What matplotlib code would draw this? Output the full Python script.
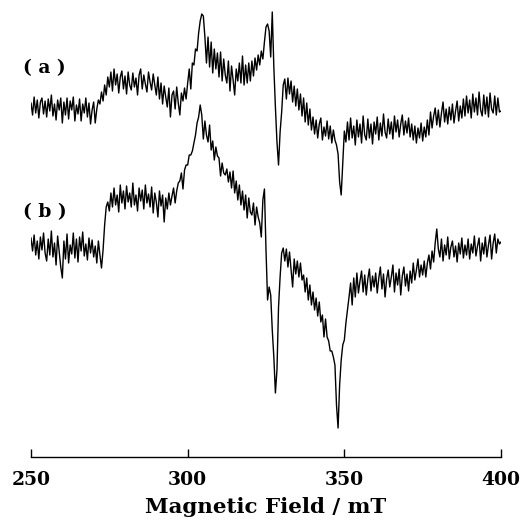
import numpy as np
import matplotlib
matplotlib.use("Agg")
import matplotlib.pyplot as plt

# Magnetic field axis (mT), 0.5 mT step from 250 to 400
field_start, field_stop, field_step = 250.0, 400.0, 0.5

# EPR signal (a), arbitrary units, 0.5 mT steps
spectrum_a = [
    4, -8, 10, -6, 7, -11, 5, 9, -7, 6,
    -10, 8, -4, 12, -9, 3, -13, 7, -3, 9,
    -16, 5, -8, 9, -12, 6, -3, 10, -14, 2,
    -7, 8, -14, 3, -6, 9, -10, 4, -17, -3,
    5, -16, -2, 7, 3, 15, 6, 22, 12, 30,
    20, 35, 16, 38, 22, 33, 14, 30, 36, 18,
    31, 13, 35, 22, 17, 34, 20, 29, 12, 32,
    38, 18, 32, 23, 15, 35, 25, 17, 33, 22,
    12, 30, 8, 24, 3, 21, 10, 0, 19, -10,
    12, 16, -2, 20, 4, -8, 14, 6, 19, 8,
    24, 38, 18, 44, 42, 58, 56, 74, 86, 93,
    91, 70, 44, 70, 40, 65, 34, 58, 38, 54,
    30, 55, 26, 48, 32, 24, 46, 16, 41, 27,
    12, 38, 26, 44, 24, 51, 22, 42, 24, 44,
    26, 46, 31, 49, 37, 52, 42, 56, 48, 65,
    80, 83, 76, 50, 95, 40, 0, -35, -58, -25,
    -5, 22, 28, 8, 29, 13, 26, 5, 21, 1,
    18, -3, 13, -9, 9, -15, 4, -18, -2, -23,
    -10, -27, -13, -31, -17, -11, -33, -20, -29, -14,
    -32, -19, -36, -23, -33, -38, -47, -75, -88, -55,
    -24, -35, -15, -33, -11, -31, -19, -38, -13, -30,
    -17, -36, -9, -28, -33, -12, -31, -17, -37, -15,
    -27, -10, -33, -16, -29, -7, -25, -31, -12, -27,
    -15, -32, -9, -25, -13, -30, -17, -8, -28, -14,
    -26, -11, -30, -17, -33, -19, -36, -21, -31, -16,
    -34, -20, -30, -13, -28, -5, -21, -9, -1, -18,
    -3, -20, -6, 5, -15, -2, -17, 0, -13, 3,
    -16, -4, 6, -14, 1, -11, 8, -9, 11, -6,
    7, -11, 13, -5, 9, -8, 15, -3, -9, 12,
    -7, 10, -10, 14, -2, -6, 11, -8, 9, -5,
    -4,
]

# EPR signal (b), arbitrary units, 0.5 mT steps
spectrum_b = [
    7, -6, 10, -10, 4, -14, 8, -5, 12, -8,
    -16, 6, -10, 14, -12, 2, -20, 9, -7, -22,
    -33, 4, -14, 11, -18, 0, -9, 12, -13, 6,
    -17, 8, -6, 13, -11, 1, -15, 7, -8, 5,
    -12, -1, -18, 4, -10, -23, -5, 20, 38, 43,
    34, 52, 38, 57, 40, 50, 33, 60, 42, 54,
    36, 59, 43, 52, 38, 62, 40, 50, 34, 57,
    44, 55, 36, 60, 42, 51, 38, 58, 32, 52,
    43, 28, 54, 39, 50, 23, 47, 36, 52, 40,
    49, 57, 42, 54, 62, 64, 72, 56, 75, 80,
    80, 90, 90, 94, 102, 110, 122, 128, 140, 130,
    106, 124, 110, 103, 120, 95, 104, 85, 98, 89,
    87, 69, 82, 72, 70, 76, 63, 73, 57, 74,
    52, 64, 45, 60, 40, 54, 35, 50, 27, 47,
    33, 30, 42, 20, 38, 28, 22, 8, 45, 56,
    -5, -55, -42, -50, -85, -112, -148, -125, -62, -32,
    -8, -3, -16, -4, -22, -7, -24, -42, -14, -29,
    -16, -32, -18, -35, -30, -47, -33, -55, -40, -60,
    -47, -65, -53, -71, -57, -77, -70, -92, -74, -92,
    -96, -106, -106, -112, -120, -160, -183, -140, -115, -100,
    -95, -78, -65, -52, -38, -60, -33, -52, -28, -48,
    -36, -26, -47, -30, -50, -34, -24, -46, -31, -42,
    -28, -48, -33, -22, -44, -29, -52, -34, -25, -42,
    -32, -20, -47, -28, -40, -24, -50, -31, -22, -41,
    -29, -46, -26, -38, -18, -35, -25, -14, -32, -20,
    -30, -16, -32, -18, -10, -24, -6, -17, 2, 16,
    -4, -12, 6, -16, 0, -10, 8, -14, -2, 4,
    -12, -1, -17, 2, -9, 7, -13, 0, -10, 6,
    -14, 1, -8, 9, -11, -1, 7, -16, 2, -9,
    8, -12, 0, 10, -14, 2, 11, -8, 6, 1,
    3,
]

trace_labels = ["( a )", "( b )"]
x_ticks = [250, 300, 350, 400]
x_label = "Magnetic Field / mT"

field = np.arange(field_start, field_stop + field_step / 2, field_step)

W, H = 521, 526
fig = plt.figure(figsize=(W / 100, H / 100), dpi=100)
ax = fig.add_axes([31 / W, 69 / H, 470 / W, 457 / H])

offset_a, offset_b = 350, 212
ax.plot(field, offset_a + np.array(spectrum_a, float), color="black", lw=1.0)
ax.plot(field, offset_b + np.array(spectrum_b, float), color="black", lw=1.0)

ax.set_xlim(250, 400)
ax.set_ylim(0, 457)
for s in ["top", "left", "right"]:
    ax.spines[s].set_visible(False)
ax.spines["bottom"].set_linewidth(1.0)
ax.set_yticks([])
ax.set_xticks(x_ticks)
ax.tick_params(axis="x", direction="in", length=6, width=1.0, pad=10)
for lab in ax.get_xticklabels():
    lab.set_fontfamily("DejaVu Serif")
    lab.set_fontweight("bold")
    lab.set_fontsize(13.5)
ax.set_xlabel(x_label, fontfamily="DejaVu Serif", fontweight="bold", fontsize=15.4, labelpad=6)

fig.text(23 / W, 1 - 68 / H, trace_labels[0], fontfamily="DejaVu Serif",
         fontweight="bold", fontsize=13.5, va="center", ha="left")
fig.text(23 / W, 1 - 212 / H, trace_labels[1], fontfamily="DejaVu Serif",
         fontweight="bold", fontsize=13.5, va="center", ha="left")

fig.savefig("out.png", dpi=100)
